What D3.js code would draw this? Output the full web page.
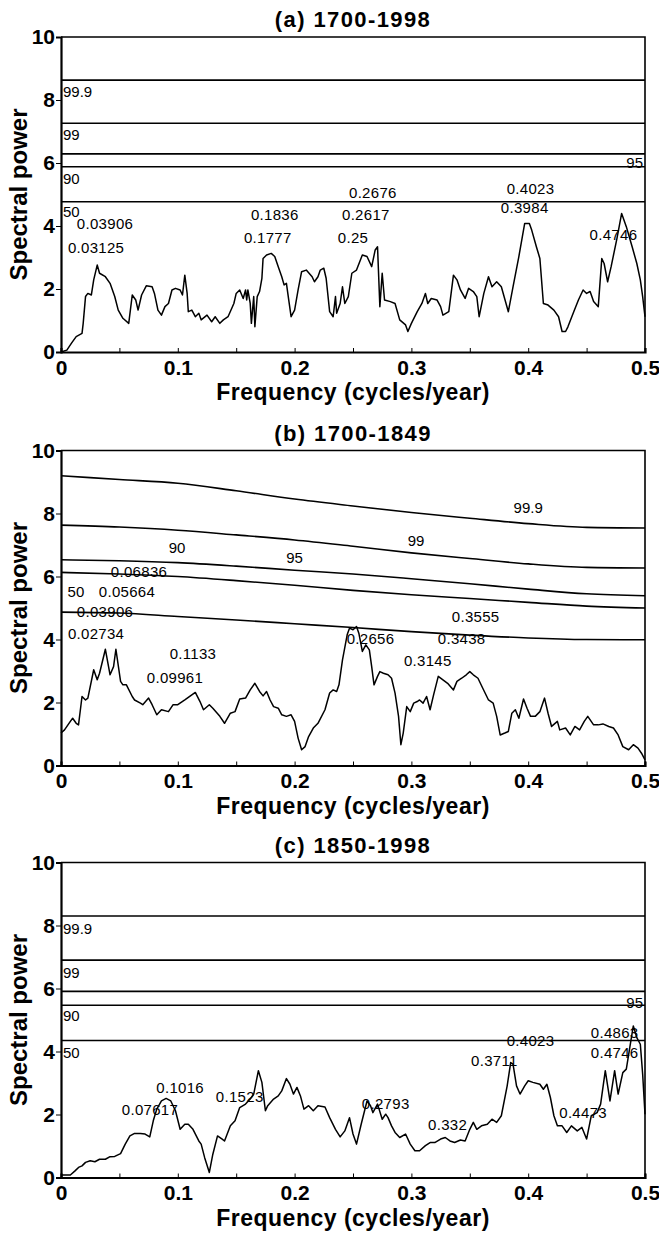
<!DOCTYPE html>
<html>
<head>
<meta charset="utf-8">
<script src="https://cdn.jsdelivr.net/npm/d3@7"></script>
<style>
  body { margin: 0; background: #fff; }
  text { font-family: "Liberation Sans", Arial, sans-serif; }
</style>
</head>
<body>
<div id="chart"></div>
<script>
// spectra: [frequency, power]
const specA = [[0,0],[0.005,0.06],[0.009,0.28],[0.013,0.49],[0.018,0.59],[0.019,0.91],[0.021,1.76],[0.023,1.86],[0.026,1.81],[0.028,2.29],[0.031,2.76],[0.033,2.5],[0.038,2.39],[0.042,2.18],[0.046,1.76],[0.049,1.33],[0.053,1.07],[0.058,0.91],[0.061,1.81],[0.064,1.65],[0.066,1.33],[0.069,1.81],[0.073,2.1],[0.078,2.07],[0.080,1.86],[0.083,1.33],[0.086,1.17],[0.089,1.44],[0.092,1.54],[0.095,1.97],[0.098,2.02],[0.102,1.97],[0.104,1.81],[0.106,2.44],[0.108,1.86],[0.109,1.28],[0.112,1.33],[0.115,1.12],[0.118,1.23],[0.120,1.02],[0.125,1.17],[0.129,0.96],[0.132,1.12],[0.136,0.91],[0.139,1.02],[0.143,1.12],[0.148,1.54],[0.150,1.86],[0.153,1.97],[0.156,1.70],[0.158,1.97],[0.159,1.65],[0.160,1.97],[0.162,1.54],[0.163,0.91],[0.165,1.76],[0.166,0.80],[0.168,1.76],[0.170,1.92],[0.172,2.34],[0.173,2.97],[0.176,3.08],[0.180,3.13],[0.183,3.03],[0.186,2.71],[0.189,2.39],[0.191,2.13],[0.193,2.18],[0.195,1.65],[0.197,1.12],[0.200,1.33],[0.203,1.97],[0.206,2.55],[0.210,2.60],[0.215,2.39],[0.217,2.23],[0.220,2.39],[0.222,2.60],[0.225,2.66],[0.227,2.34],[0.230,1.28],[0.233,1.12],[0.235,1.76],[0.236,1.23],[0.239,1.54],[0.241,2.07],[0.243,1.54],[0.246,1.76],[0.249,2.50],[0.253,2.60],[0.258,3.08],[0.262,3.03],[0.266,2.71],[0.269,3.24],[0.271,3.34],[0.273,1.44],[0.275,2.50],[0.277,1.65],[0.282,1.60],[0.286,1.54],[0.290,1.02],[0.295,0.86],[0.297,0.65],[0.300,0.91],[0.305,1.28],[0.309,1.54],[0.312,1.86],[0.314,1.54],[0.317,1.70],[0.322,1.65],[0.325,1.44],[0.327,1.17],[0.332,1.28],[0.336,2.44],[0.339,2.29],[0.342,1.97],[0.346,1.70],[0.349,2.02],[0.353,1.92],[0.356,1.76],[0.358,1.12],[0.362,1.86],[0.366,2.39],[0.369,2.07],[0.373,2.23],[0.377,2.07],[0.383,1.28],[0.387,2.07],[0.392,3.03],[0.395,3.66],[0.397,4.08],[0.401,4.08],[0.403,3.87],[0.407,3.34],[0.410,2.97],[0.413,1.54],[0.417,1.49],[0.422,1.33],[0.426,1.12],[0.429,0.65],[0.432,0.65],[0.434,0.80],[0.439,1.28],[0.443,1.65],[0.447,1.97],[0.450,1.86],[0.453,1.92],[0.456,1.60],[0.460,1.44],[0.463,2.97],[0.465,2.81],[0.468,2.23],[0.471,2.71],[0.476,3.61],[0.480,4.40],[0.484,3.98],[0.489,3.34],[0.493,2.81],[0.496,2.29],[0.498,1.76],[0.500,1.12]];

const specB = [[0,1.03],[0.003,1.13],[0.008,1.40],[0.010,1.50],[0.013,1.34],[0.015,1.29],[0.018,2.19],[0.021,2.08],[0.023,2.14],[0.028,3.04],[0.031,2.72],[0.033,2.93],[0.038,3.69],[0.042,2.88],[0.045,3.14],[0.047,3.69],[0.051,2.67],[0.053,2.56],[0.056,2.56],[0.061,2.19],[0.063,2.08],[0.068,1.98],[0.070,1.93],[0.075,2.14],[0.078,1.93],[0.082,1.61],[0.086,1.77],[0.092,1.71],[0.096,1.93],[0.100,1.93],[0.106,2.08],[0.115,2.32],[0.119,2.03],[0.122,1.77],[0.127,1.93],[0.130,1.82],[0.136,1.56],[0.140,1.34],[0.145,1.66],[0.149,1.71],[0.153,2.11],[0.158,2.14],[0.162,2.40],[0.166,2.61],[0.170,2.35],[0.173,2.21],[0.176,2.35],[0.179,2.08],[0.182,1.87],[0.186,1.82],[0.189,1.61],[0.193,1.56],[0.197,1.61],[0.200,1.40],[0.203,0.87],[0.206,0.50],[0.209,0.60],[0.212,0.92],[0.216,1.19],[0.220,1.34],[0.226,1.77],[0.230,2.30],[0.233,2.40],[0.236,2.35],[0.238,2.56],[0.241,3.35],[0.245,4.15],[0.247,4.36],[0.250,4.31],[0.253,4.41],[0.255,4.20],[0.258,3.62],[0.261,3.83],[0.264,3.67],[0.266,3.14],[0.268,2.56],[0.271,2.83],[0.273,2.98],[0.276,2.93],[0.280,2.88],[0.283,2.77],[0.286,2.30],[0.289,1.56],[0.291,0.66],[0.293,1.03],[0.296,1.87],[0.299,1.71],[0.302,1.98],[0.305,2.03],[0.307,2.08],[0.310,1.98],[0.313,2.19],[0.316,1.77],[0.319,2.24],[0.323,2.83],[0.327,2.72],[0.331,2.61],[0.336,2.40],[0.339,2.67],[0.343,2.77],[0.347,2.88],[0.350,2.98],[0.353,2.88],[0.357,2.77],[0.361,2.46],[0.366,2.08],[0.370,1.98],[0.373,1.56],[0.376,0.97],[0.380,1.03],[0.383,1.08],[0.386,1.66],[0.389,1.77],[0.392,1.50],[0.396,2.11],[0.399,1.82],[0.402,1.56],[0.406,1.56],[0.410,1.71],[0.414,2.14],[0.417,1.66],[0.420,1.24],[0.425,1.40],[0.427,1.13],[0.432,1.19],[0.436,0.97],[0.440,1.24],[0.444,1.13],[0.448,1.40],[0.451,1.56],[0.456,1.29],[0.460,1.29],[0.464,1.32],[0.469,1.24],[0.473,1.19],[0.477,0.97],[0.481,0.60],[0.486,0.50],[0.490,0.66],[0.494,0.55],[0.497,0.39],[0.500,0.18]];

const specC = [[0,0.08],[0.008,0.08],[0.012,0.21],[0.015,0.32],[0.018,0.37],[0.021,0.48],[0.025,0.53],[0.029,0.50],[0.033,0.58],[0.038,0.58],[0.042,0.66],[0.046,0.67],[0.051,0.76],[0.055,1.06],[0.059,1.32],[0.063,1.40],[0.068,1.40],[0.072,1.38],[0.076,1.29],[0.079,1.80],[0.082,2.17],[0.086,2.43],[0.090,2.51],[0.094,2.43],[0.098,2.12],[0.102,1.53],[0.106,1.69],[0.109,1.69],[0.113,1.53],[0.118,1.16],[0.120,1.06],[0.123,0.63],[0.127,0.16],[0.130,0.74],[0.134,1.32],[0.138,1.22],[0.140,1.16],[0.145,1.64],[0.149,1.80],[0.153,2.22],[0.158,2.33],[0.162,2.49],[0.165,2.65],[0.169,3.39],[0.172,3.02],[0.175,2.12],[0.177,2.28],[0.182,2.49],[0.186,2.59],[0.189,2.75],[0.193,3.14],[0.196,2.96],[0.199,2.65],[0.202,2.86],[0.205,2.59],[0.208,2.17],[0.212,2.28],[0.216,2.12],[0.220,2.28],[0.226,2.24],[0.230,1.90],[0.235,1.53],[0.239,1.29],[0.243,1.48],[0.247,1.90],[0.250,1.38],[0.253,1.06],[0.257,1.69],[0.262,2.43],[0.265,2.28],[0.267,2.06],[0.271,2.33],[0.275,1.85],[0.278,2.01],[0.280,1.90],[0.283,1.64],[0.286,1.43],[0.290,1.27],[0.295,1.38],[0.299,1.06],[0.303,0.85],[0.307,0.85],[0.312,1.01],[0.316,1.11],[0.320,1.11],[0.325,1.22],[0.329,1.27],[0.333,1.16],[0.337,1.11],[0.342,1.19],[0.346,1.16],[0.350,1.53],[0.353,1.75],[0.356,1.53],[0.360,1.64],[0.365,1.69],[0.369,1.85],[0.373,1.75],[0.377,1.96],[0.382,2.91],[0.385,3.65],[0.387,3.60],[0.390,2.91],[0.393,2.65],[0.397,2.91],[0.400,3.07],[0.404,3.02],[0.410,2.96],[0.413,2.80],[0.416,2.96],[0.419,2.54],[0.422,1.96],[0.425,1.64],[0.429,1.64],[0.433,1.43],[0.437,1.64],[0.442,1.48],[0.446,1.59],[0.450,1.22],[0.454,1.96],[0.459,2.06],[0.462,2.33],[0.466,3.39],[0.470,2.43],[0.474,3.39],[0.477,2.65],[0.481,3.33],[0.484,3.44],[0.487,4.13],[0.490,4.81],[0.493,4.44],[0.496,4.23],[0.498,3.28],[0.500,2.01]];

// confidence levels (%) and their power thresholds
const sigNames = ["50", "90", "95", "99", "99.9"];
const levelsA = [4.77, 5.88, 6.29, 7.26, 8.63];
const levelsC = [4.35, 5.47, 5.91, 6.90, 8.30];
// panel (b) thresholds are red-noise curves, read at these frequencies
const freqB = [0, 0.05, 0.1, 0.15, 0.2, 0.25, 0.3, 0.35, 0.4, 0.45, 0.5];
const levB50  = [4.87, 4.84, 4.73, 4.62, 4.50, 4.38, 4.25, 4.14, 4.05, 4.00, 3.99];
const levB90  = [6.13, 6.08, 6.00, 5.87, 5.72, 5.56, 5.42, 5.30, 5.18, 5.06, 5.00];
const levB95  = [6.53, 6.50, 6.44, 6.33, 6.20, 6.08, 5.93, 5.77, 5.60, 5.45, 5.39];
const levB99  = [7.63, 7.57, 7.47, 7.32, 7.16, 6.96, 6.75, 6.57, 6.40, 6.29, 6.27];
const levB999 = [9.20, 9.08, 8.96, 8.72, 8.46, 8.24, 8.03, 7.85, 7.68, 7.56, 7.54];

// peak labels: [text, frequency, power]
const peaksA = [["0.03906",0.0377,4.06],["0.03125",0.030,3.30],["0.1836",0.183,4.35],["0.1777",0.177,3.62],
  ["0.2676",0.267,5.05],["0.2617",0.261,4.35],["0.25",0.25,3.62],["0.4023",0.402,5.17],["0.3984",0.397,4.57],["0.4746",0.473,3.71]];
const peaksB = [["0.06836",0.0668,6.15],["0.05664",0.0565,5.51],["0.03906",0.0377,4.88],["0.02734",0.030,4.18],
  ["0.1133",0.113,3.55],["0.09961",0.0976,2.78],["0.3555",0.355,4.72],["0.2656",0.265,4.02],["0.3438",0.343,4.02],["0.3145",0.314,3.32]];
const peaksC = [["0.07617",0.0762,2.14],["0.1016",0.102,2.85],["0.1523",0.153,2.57],["0.2793",0.278,2.33],["0.332",0.331,1.67],
  ["0.3711",0.371,3.70],["0.4023",0.402,4.33],["0.4863",0.474,4.61],["0.4746",0.474,3.96],["0.4473",0.447,2.04]];
// level labels for (b): [text, frequency, power]
const levLabelsB = [["99.9",0.400,8.18],["99",0.304,7.13],["90",0.0993,6.91],["95",0.200,6.59],["50",0.0128,5.51]];
// level labels for flat panels: power where each label sits
const levLabelsA = [["50",4.44],["90",5.49],["99",6.89],["99.9",8.25]];
const levLabelsC = [["50",3.95],["90",5.13],["99",6.49],["99.9",7.89]];
const label95A = 6.0, label95C = 5.54;

const W = 659, H = 1235;
const left = 61, pw = 584, ph = 315;

const svg = d3.select("#chart").append("svg")
    .attr("width", W)
    .attr("height", H)
    .style("background", "#fff");

const x = d3.scaleLinear().domain([0, 0.5]).range([0, pw]);
const y = d3.scaleLinear().domain([0, 10]).range([ph, 0]);

function drawPanel(top, title, spec, thresholds, peaks, levelTexts) {
    const g = svg.append("g").attr("transform", `translate(${left},${top})`);

    // frame
    g.append("path")
        .attr("d", `M0,0H${pw}V${ph}`)
        .attr("fill", "none")
        .attr("stroke", "#000")
        .attr("stroke-width", 1.6);

    // threshold lines
    const line = d3.line().x(d => x(d[0])).y(d => y(d[1])).curve(d3.curveMonotoneX);
    thresholds.forEach(t => {
        g.append("path")
            .datum(t)
            .attr("fill", "none")
            .attr("stroke", "#000")
            .attr("stroke-width", 1.6)
            .attr("d", line);
    });

    // spectrum
    g.append("path")
        .datum(spec)
        .attr("fill", "none")
        .attr("stroke", "#000")
        .attr("stroke-width", 1.5)
        .attr("stroke-linejoin", "round")
        .attr("d", d3.line().x(d => x(d[0])).y(d => y(d[1])));

    // axes
    const xAxis = d3.axisBottom(x)
        .tickValues(d3.range(0, 0.501, 0.05))
        .tickSize(-4)
        .tickPadding(8)
        .tickFormat(d => (Math.round(d * 100) % 10 === 0) ? (d === 0 ? "0" : d3.format(".1f")(d)) : "");
    g.append("g")
        .attr("transform", `translate(0,${ph})`)
        .call(xAxis)
        .call(a => a.select(".domain").attr("stroke-width", 2.2))
        .call(a => a.selectAll("text").attr("font-size", 21).attr("font-weight", "bold")
            .attr("fill", "#000").attr("font-family", "Liberation Sans, Arial, sans-serif"));

    g.append("g")
        .call(d3.axisLeft(y).tickValues([0, 2, 4, 6, 8, 10]).tickSize(5).tickPadding(1))
        .call(a => a.select(".domain").attr("stroke-width", 2.2))
        .call(a => a.selectAll("text").attr("font-size", 21).attr("font-weight", "bold")
            .attr("fill", "#000").attr("font-family", "Liberation Sans, Arial, sans-serif"));

    // titles
    g.append("text")
        .attr("x", pw / 2)
        .attr("y", -10)
        .attr("text-anchor", "middle")
        .attr("font-size", 22)
        .attr("font-weight", "bold")
        .attr("letter-spacing", 1.4)
        .text(title);

    g.append("text")
        .attr("x", pw / 2)
        .attr("y", ph + 48)
        .attr("text-anchor", "middle")
        .attr("font-size", 23)
        .attr("font-weight", "bold")
        .attr("letter-spacing", 0.5)
        .text("Frequency (cycles/year)");

    g.append("text")
        .attr("transform", `translate(${-left + 27},${ph / 2}) rotate(-90)`)
        .attr("text-anchor", "middle")
        .attr("font-size", 24)
        .attr("font-weight", "bold")
        .text("Spectral power");

    // peak frequency labels
    g.selectAll(".peak")
        .data(peaks)
        .join("text")
        .attr("x", d => x(d[1]))
        .attr("y", d => y(d[2]))
        .attr("dy", "0.35em")
        .attr("text-anchor", "middle")
        .attr("font-size", 15)
        .attr("letter-spacing", 0.3)
        .text(d => d[0]);

    levelTexts(g);
}

// (a)
drawPanel(37, "(a) 1700-1998", specA,
    levelsA.map(v => [[0, v], [0.5, v]]),
    peaksA,
    g => {
        g.selectAll(".lev").data(levLabelsA).join("text")
            .attr("x", 2).attr("y", d => y(d[1])).attr("dy", "0.35em")
            .attr("font-size", 15).text(d => d[0]);
        g.append("text").attr("x", pw - 2).attr("y", y(label95A)).attr("dy", "0.35em")
            .attr("text-anchor", "end").attr("font-size", 15).text("95");
    });

// (b)
drawPanel(450.5, "(b) 1700-1849", specB,
    [levB50, levB90, levB95, levB99, levB999].map(arr => arr.map((v, i) => [freqB[i], v])),
    peaksB,
    g => {
        g.selectAll(".lev").data(levLabelsB).join("text")
            .attr("x", d => x(d[1])).attr("y", d => y(d[2])).attr("dy", "0.35em")
            .attr("text-anchor", "middle").attr("font-size", 15).text(d => d[0]);
    });

// (c)
drawPanel(862.5, "(c) 1850-1998", specC,
    levelsC.map(v => [[0, v], [0.5, v]]),
    peaksC,
    g => {
        g.selectAll(".lev").data(levLabelsC).join("text")
            .attr("x", 2).attr("y", d => y(d[1])).attr("dy", "0.35em")
            .attr("font-size", 15).text(d => d[0]);
        g.append("text").attr("x", pw - 2).attr("y", y(label95C)).attr("dy", "0.35em")
            .attr("text-anchor", "end").attr("font-size", 15).text("95");
    });
</script>
</body>
</html>
